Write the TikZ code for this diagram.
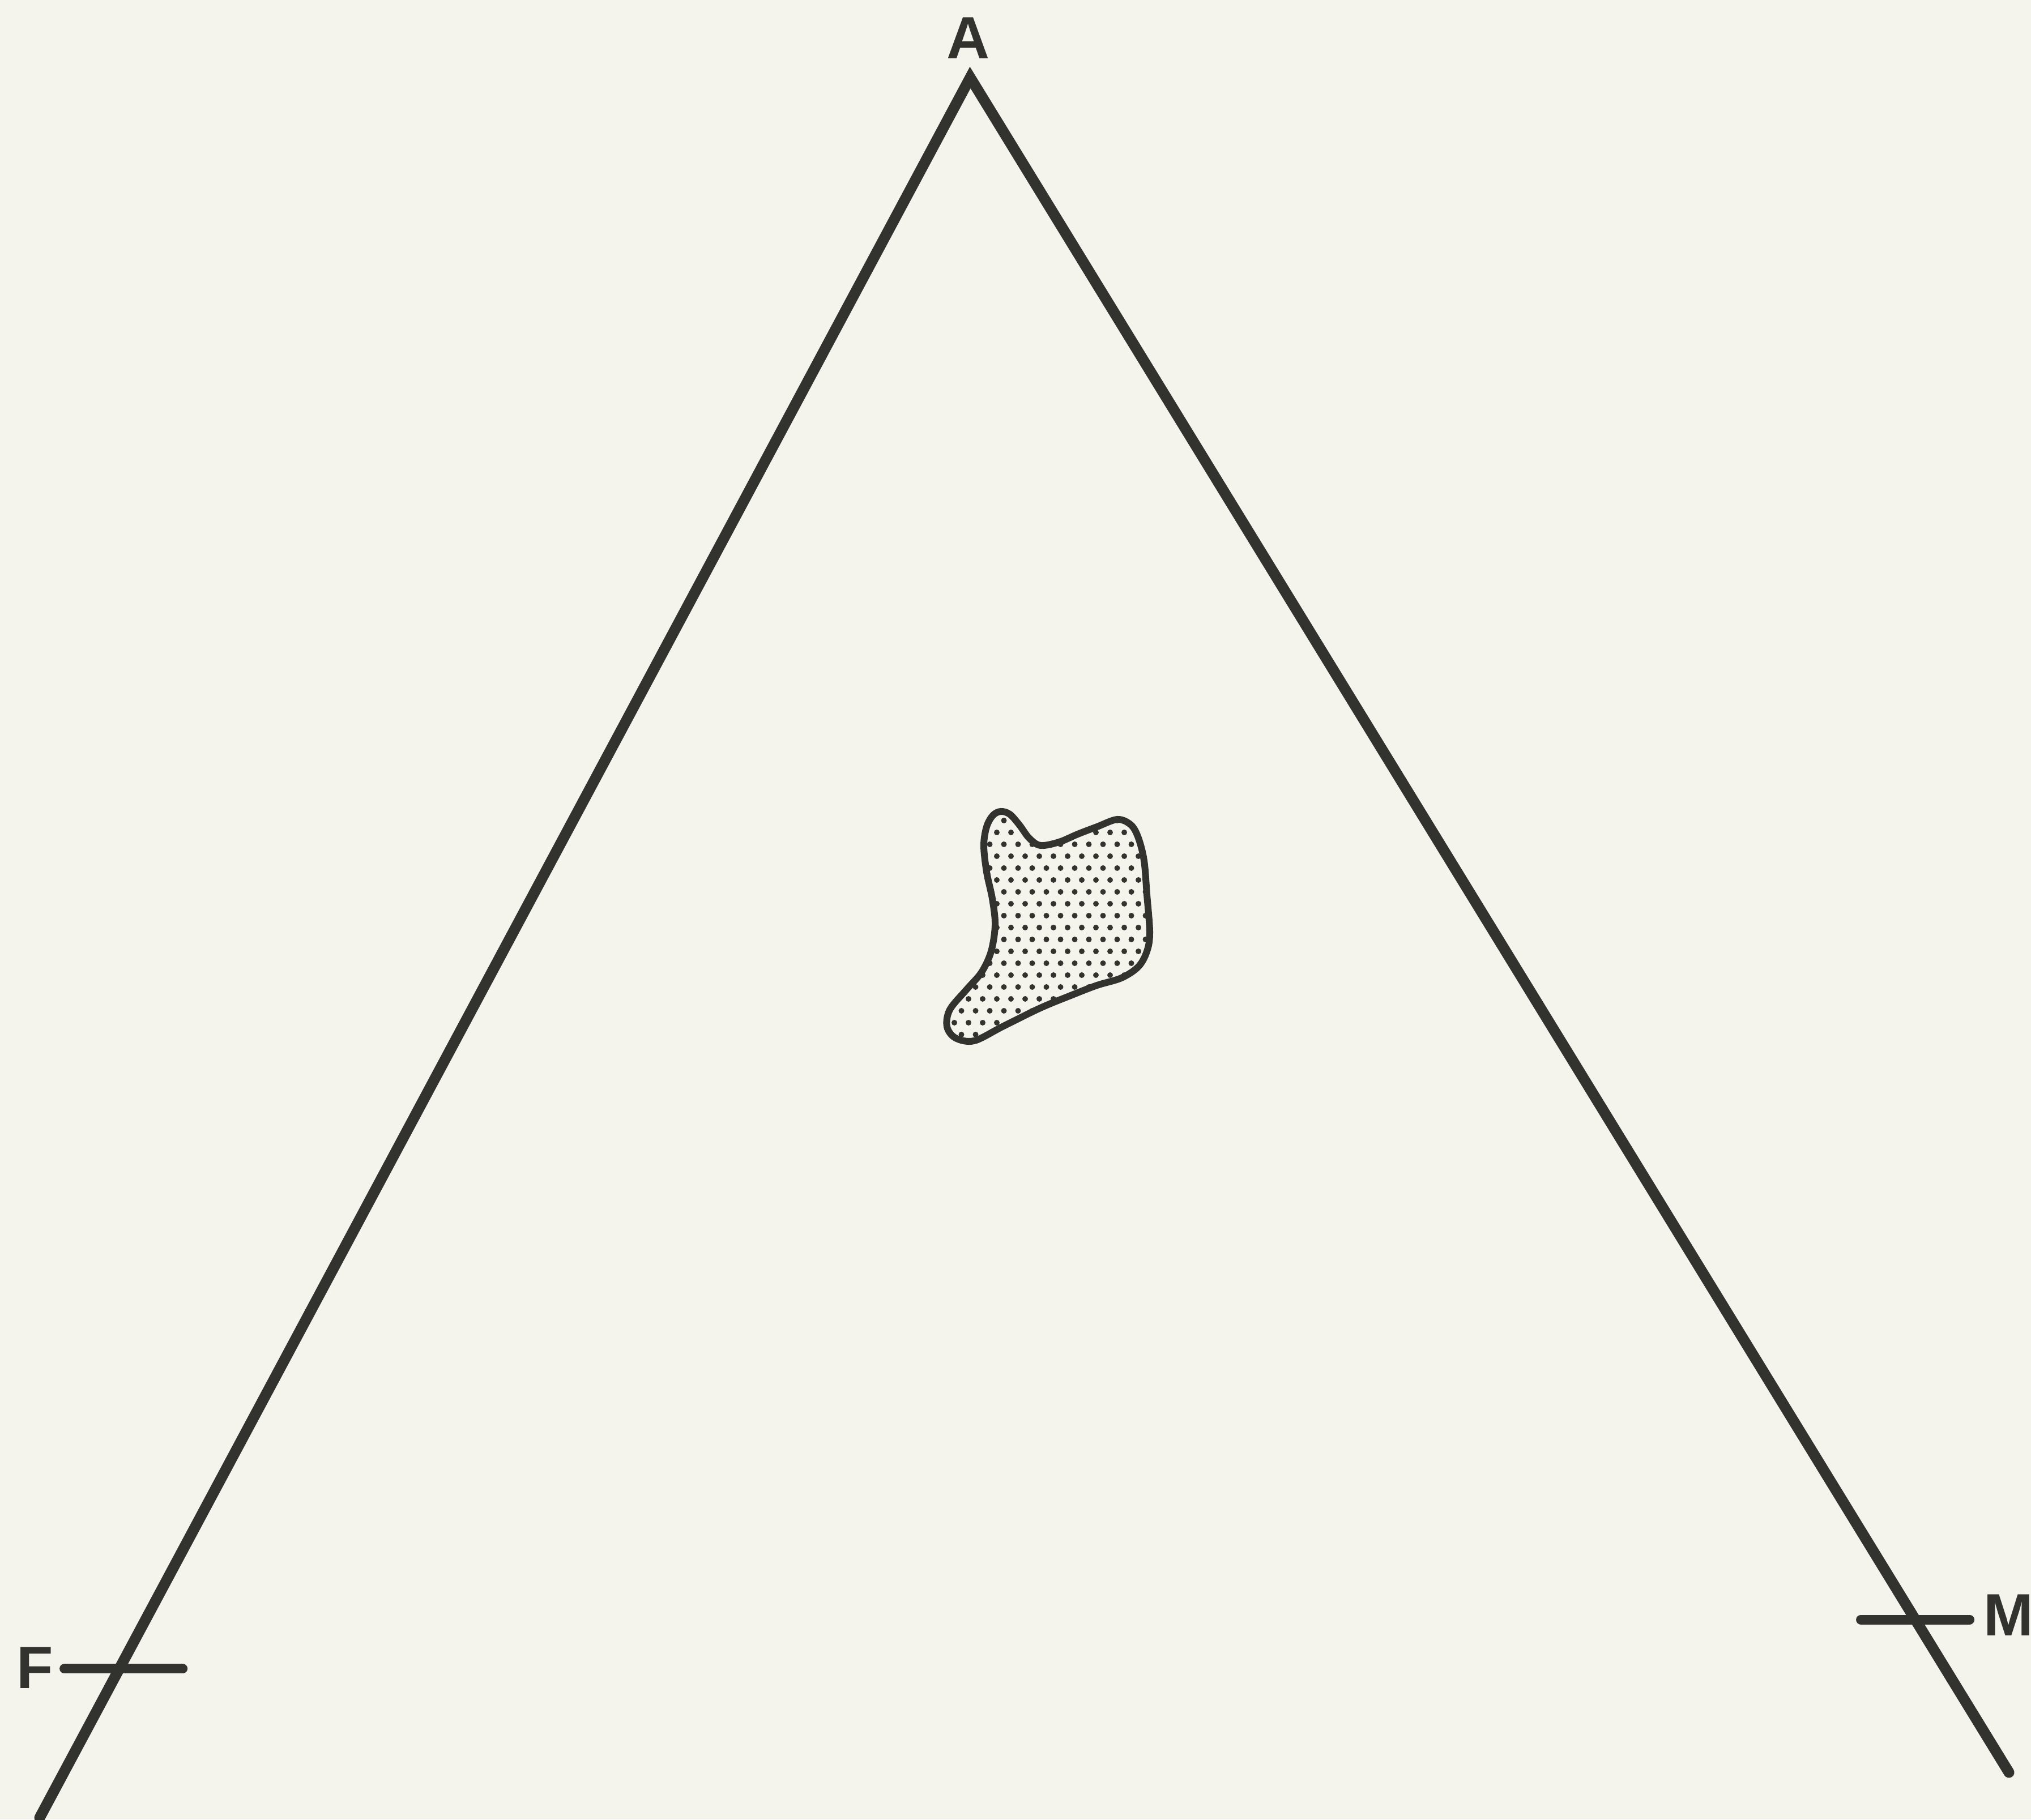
\documentclass[tikz,border=0pt]{standalone}
\usepackage{fontspec}
\setmainfont{Liberation Sans}
\usetikzlibrary{calc}
\definecolor{paper}{RGB}{244,244,237}
\definecolor{ink}{RGB}{50,50,46}
\tikzset{
  sideline/.style={ink,line width=1.9mm,line cap=round,line join=miter},
  tickmark/.style={ink,line width=1.7mm,line cap=round},
  blobline/.style={ink,line width=1.2mm},
  cornerlabel/.style={ink,inner sep=0pt,font=\fontsize{30}{30}\selectfont\bfseries},
}

\begin{document}
\begin{tikzpicture}
  \fill[paper] (0,0) rectangle (35.86,32.13);
  \useasboundingbox (0,0) rectangle (35.86,32.13);
  % corners of the diagram
  \coordinate (A) at (17.13,30.76);
  \coordinate (Fend) at (0.70,0.03);
  \coordinate (Mend) at (35.47,0.83);
  \draw[sideline] (Fend) -- (A) -- (Mend);
  % tick marks on the two sides
  \coordinate (Ftick) at ($(A)!0.9144!(Fend)$);
  \coordinate (Mtick) at ($(A)!0.9098!(Mend)$);
  \draw[tickmark] ($(Ftick)+(-0.97,0)$) -- ($(Ftick)+(1.12,0)$);
  \draw[tickmark] ($(Mtick)+(-0.96,0)$) -- ($(Mtick)+(0.96,0)$);
  \node[cornerlabel] (labA) at (17.10,31.46) {A};
  \node[cornerlabel] (labF) at (0.62,2.68) {F};
  \node[cornerlabel,anchor=west] (labM) at (35.02,3.61) {M};
  % the dotted field
  \path[save path=\blobshape] plot[smooth cycle,tension=0.55] coordinates {
    (17.67,17.80) (17.83,17.75) (18.00,17.56) (18.17,17.33) (18.37,17.20)
    (18.70,17.26) (19.03,17.40) (19.37,17.53) (19.73,17.66) (19.97,17.56)
    (20.10,17.33) (20.20,16.93) (20.25,16.33) (20.30,15.66) (20.25,15.33)
    (20.10,15.06) (19.80,14.86) (19.37,14.73) (18.93,14.56) (18.37,14.33)
    (17.70,14.00) (17.20,13.75) (16.87,13.80) (16.72,14.00) (16.77,14.30)
    (17.07,14.66) (17.33,14.96) (17.50,15.33) (17.57,15.80) (17.52,16.26)
    (17.42,16.73) (17.37,17.20) (17.42,17.53) (17.53,17.73)};
  \begin{scope}
    \clip[use path=\blobshape];
    \foreach \i in {0,...,20}
      \foreach \j in {0,...,15}
        \fill[ink] ({16.6+0.25*\j+0.125*mod(\i,2)},{13.65+0.21*\i}) circle (0.05);
  \end{scope}
  \draw[blobline,use path=\blobshape];
\end{tikzpicture}
\end{document}
